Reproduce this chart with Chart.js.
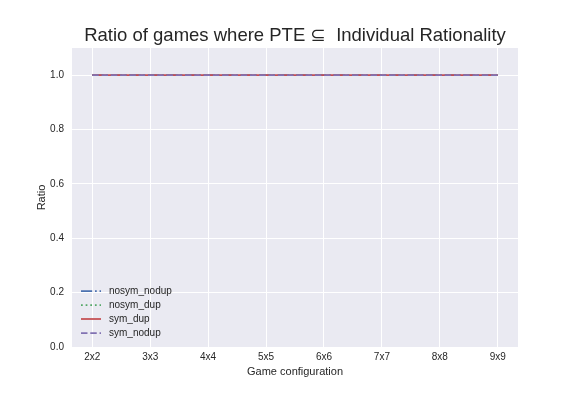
<!DOCTYPE html>
<html>
<head>
<meta charset="utf-8">
<script src="https://cdn.jsdelivr.net/npm/chart.js@4"></script>
<style>
  body { margin: 0; background: #ffffff; }
  #wrap { width: 576px; height: 396px; }
</style>
</head>
<body>
<div id="wrap"><canvas id="chart" width="576" height="396"></canvas></div>
<script>
const categories = ["2x2", "3x3", "4x4", "5x5", "6x6", "7x7", "8x8", "9x9"];
const nosymNodup = [1.0, 1.0, 1.0, 1.0, 1.0, 1.0, 1.0, 1.0];
const nosymDup = [1.0, 1.0, 1.0, 1.0, 1.0, 1.0, 1.0, 1.0];
const symDup = [1.0, 1.0, 1.0, 1.0, 1.0, 1.0, 1.0, 1.0];
const symNodup = [1.0, 1.0, 1.0, 1.0, 1.0, 1.0, 1.0, 1.0];
const yTicks = [0.0, 0.2, 0.4, 0.6, 0.8, 1.0];
const titleText = "Ratio of games where PTE \u2286  Individual Rationality";

const FONT = "'Liberation Sans', Arial, 'DejaVu Sans', sans-serif";
const TEXT = "#262626";
const LW = 1.75;

function series(label, values, color, dash, i) {
  return {
    label: label,
    data: values.map((v, k) => ({ x: k, y: v })),
    borderColor: color,
    borderWidth: LW,
    borderDash: dash,
    borderCapStyle: "butt",
    pointRadius: 0,
    fill: false,
    order: 4 - i,
  };
}

// title centred over the axes, not over the whole canvas
const axesTitle = {
  id: "axesTitle",
  afterDraw(chart) {
    const c = chart.ctx;
    const a = chart.chartArea;
    c.save();
    c.font = "18.5px " + FONT;
    c.fillStyle = TEXT;
    c.textAlign = "center";
    c.textBaseline = "alphabetic";
    c.fillText(titleText, (a.left + a.right) / 2, 41);
    c.restore();
  },
};

// legend inside the axes, lower left, no frame
const innerLegend = {
  id: "innerLegend",
  afterDraw(chart) {
    const c = chart.ctx;
    const area = chart.chartArea;
    const sets = chart.data.datasets;
    c.save();
    c.font = "10px " + FONT;
    c.textBaseline = "middle";
    c.fillStyle = TEXT;
    sets.forEach((ds, i) => {
      const y = area.bottom - 14 - (sets.length - 1 - i) * 14;
      const x0 = area.left + 9;
      c.beginPath();
      c.strokeStyle = ds.borderColor;
      c.lineWidth = LW;
      c.setLineDash(ds.borderDash || []);
      c.moveTo(x0, y);
      c.lineTo(x0 + 20, y);
      c.stroke();
      c.setLineDash([]);
      c.fillText(ds.label, x0 + 28, y);
    });
    c.restore();
  },
};

// grey plot background
const plotBg = {
  id: "plotBg",
  beforeDraw(chart) {
    const a = chart.chartArea;
    chart.ctx.save();
    chart.ctx.fillStyle = "#EAEAF2";
    chart.ctx.fillRect(a.left, a.top, a.right - a.left, a.bottom - a.top);
    chart.ctx.restore();
  },
};

const ctx = document.getElementById("chart").getContext("2d");
const myChart = new Chart(ctx, {
  type: "line",
  data: {
    datasets: [
      series("nosym_nodup", nosymNodup, "#4C72B0", [11.2, 2.8, 1.75, 2.8], 0),
      series("nosym_dup", nosymDup, "#55A868", [1.75, 2.89], 1),
      series("sym_dup", symDup, "#C44E52", [], 2),
      series("sym_nodup", symNodup, "#8172B2", [6.475, 2.8], 3),
    ],
  },
  options: {
    responsive: false,
    animation: false,
    layout: { padding: { top: 48, left: 0, right: 58, bottom: 0 } },
    plugins: {
      legend: { display: false },
      tooltip: { enabled: false },
      title: { display: false },
    },
    scales: {
      x: {
        type: "linear",
        min: -0.35,
        max: 7.35,
        afterBuildTicks(scale) {
          scale.ticks = categories.map((c, i) => ({ value: i }));
        },
        afterFit(scale) {
          scale.height = 49;
        },
        ticks: {
          autoSkip: false,
          maxRotation: 0,
          color: TEXT,
          padding: 4,
          font: { family: FONT, size: 10 },
          callback: (v) => categories[v],
        },
        grid: { color: "#ffffff", lineWidth: 1, drawTicks: false },
        border: { display: false },
        title: {
          display: true,
          text: "Game configuration",
          color: TEXT,
          font: { family: FONT, size: 11 },
          padding: { top: 0, bottom: 17.5 },
        },
      },
      y: {
        min: 0,
        max: 1.1,
        afterBuildTicks(scale) {
          scale.ticks = yTicks.map((v) => ({ value: v }));
        },
        afterFit(scale) {
          scale.width = 72;
        },
        ticks: {
          color: TEXT,
          padding: 8,
          font: { family: FONT, size: 10 },
          callback: (v) => v.toFixed(1),
        },
        grid: { color: "#ffffff", lineWidth: 1, drawTicks: false },
        border: { display: false },
        title: {
          display: true,
          text: "Ratio",
          color: TEXT,
          font: { family: FONT, size: 11 },
          padding: { top: 35, bottom: 0 },
        },
      },
    },
  },
  plugins: [plotBg, axesTitle, innerLegend],
});
</script>
</body>
</html>
